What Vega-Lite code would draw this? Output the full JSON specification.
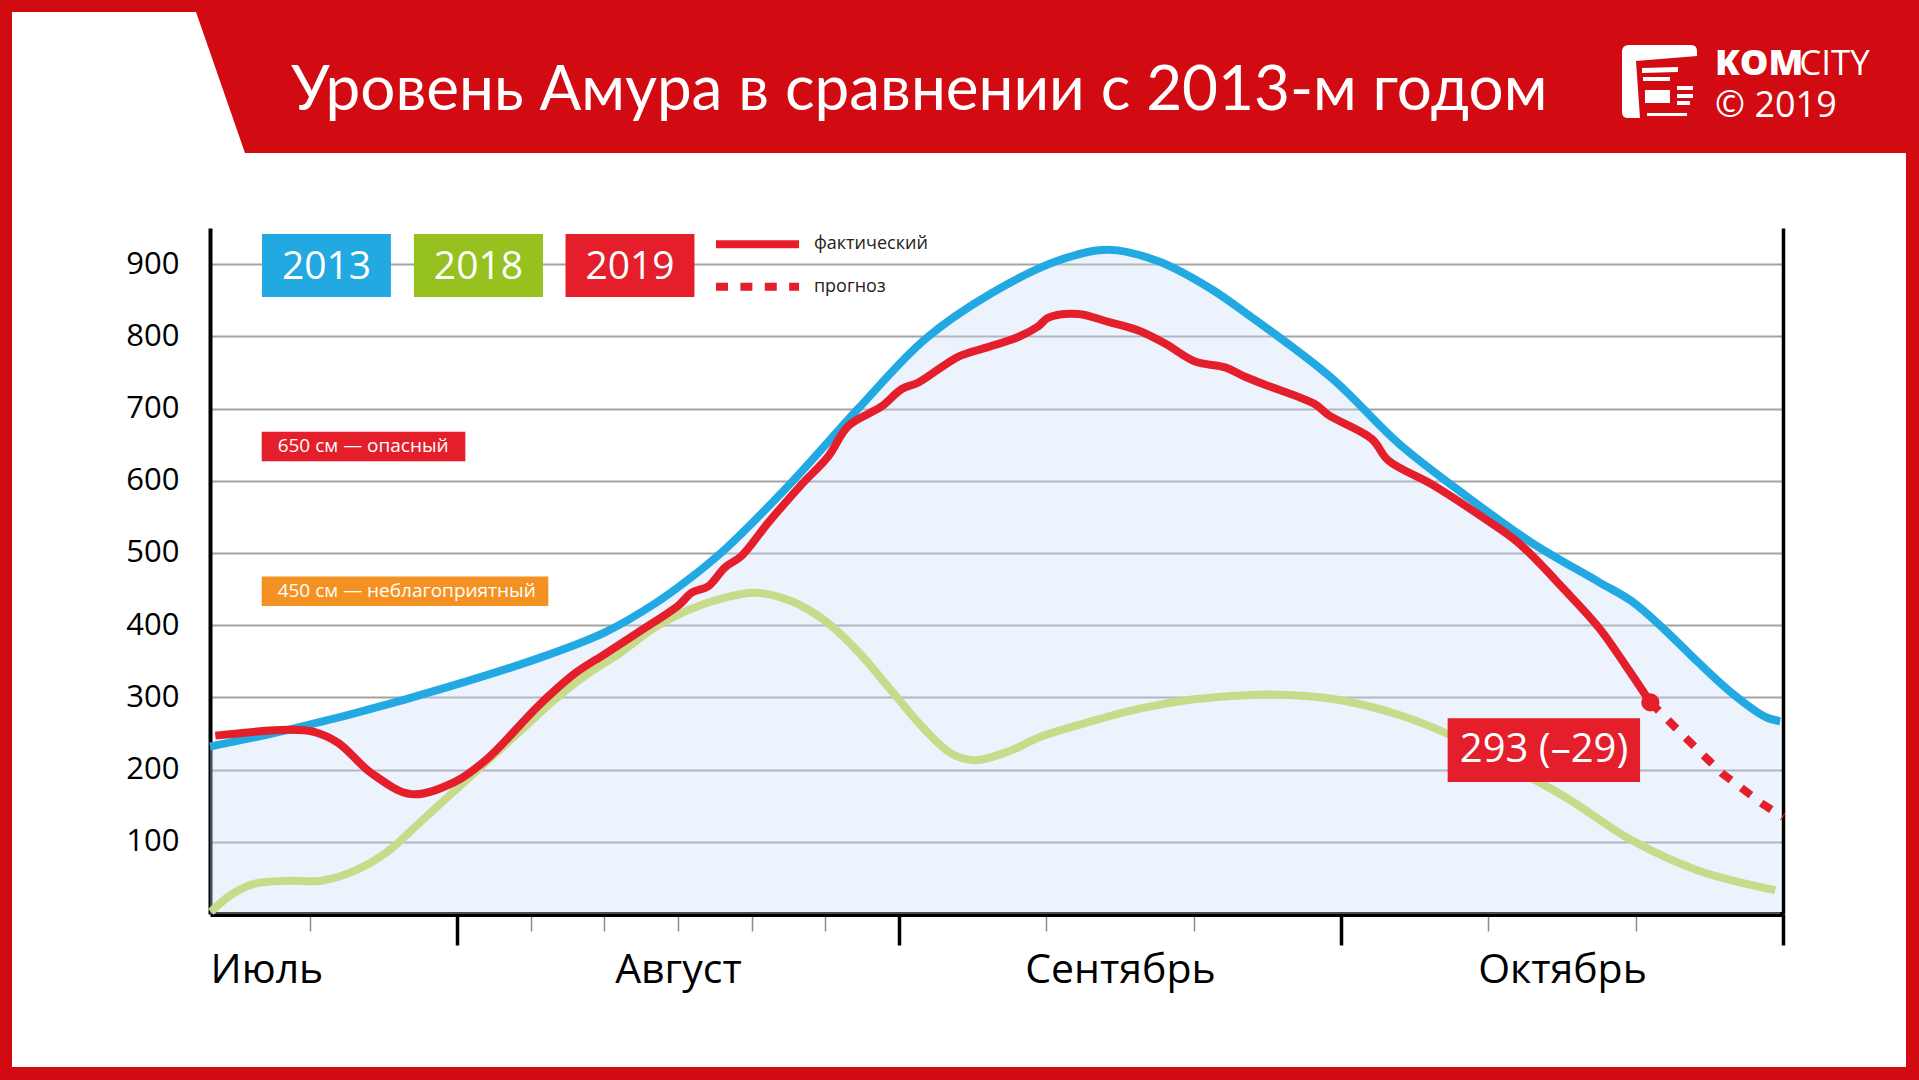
{
  "$schema": "https://vega.github.io/schema/vega-lite/v6.json",
  "width": 1573,
  "height": 686,
  "autosize": {"type": "none"},
  "padding": {"left": 210, "top": 228, "right": 136, "bottom": 166},
  "background": "#ffffff",
  "config": {"view": {"stroke": null}, "font": "Open Sans"},
  "datasets": {
    "levels": [
      {"series": "2013", "day": -16.76, "level": 232},
      {"series": "2013", "day": -11.46, "level": 255},
      {"series": "2013", "day": -3.54, "level": 297},
      {"series": "2013", "day": 5.51, "level": 354},
      {"series": "2013", "day": 10.04, "level": 390},
      {"series": "2013", "day": 13.44, "level": 430},
      {"series": "2013", "day": 15.7, "level": 463},
      {"series": "2013", "day": 18.19, "level": 505},
      {"series": "2013", "day": 22.72, "level": 598},
      {"series": "2013", "day": 27.24, "level": 700},
      {"series": "2013", "day": 31.77, "level": 796},
      {"series": "2013", "day": 36.3, "level": 860},
      {"series": "2013", "day": 40.82, "level": 905},
      {"series": "2013", "day": 44.21, "level": 920},
      {"series": "2013", "day": 47.6, "level": 904},
      {"series": "2013", "day": 51.0, "level": 868},
      {"series": "2013", "day": 53.49, "level": 833},
      {"series": "2013", "day": 59.38, "level": 742},
      {"series": "2013", "day": 63.9, "level": 652},
      {"series": "2013", "day": 68.43, "level": 580},
      {"series": "2013", "day": 72.96, "level": 514},
      {"series": "2013", "day": 77.48, "level": 460},
      {"series": "2013", "day": 79.74, "level": 433},
      {"series": "2013", "day": 82.0, "level": 393},
      {"series": "2013", "day": 84.27, "level": 348},
      {"series": "2013", "day": 86.53, "level": 306},
      {"series": "2013", "day": 88.8, "level": 273},
      {"series": "2013", "day": 89.81, "level": 267},

      {"series": "2018", "day": -16.7, "level": 3},
      {"series": "2018", "day": -15.3, "level": 27},
      {"series": "2018", "day": -13.7, "level": 42},
      {"series": "2018", "day": -11.46, "level": 46},
      {"series": "2018", "day": -9.19, "level": 46},
      {"series": "2018", "day": -6.93, "level": 60},
      {"series": "2018", "day": -4.67, "level": 87},
      {"series": "2018", "day": -2.4, "level": 129},
      {"series": "2018", "day": -0.14, "level": 171},
      {"series": "2018", "day": 2.12, "level": 213},
      {"series": "2018", "day": 4.39, "level": 255},
      {"series": "2018", "day": 6.65, "level": 297},
      {"series": "2018", "day": 8.91, "level": 333},
      {"series": "2018", "day": 11.18, "level": 363},
      {"series": "2018", "day": 13.44, "level": 397},
      {"series": "2018", "day": 15.7, "level": 421},
      {"series": "2018", "day": 18.19, "level": 438},
      {"series": "2018", "day": 20.23, "level": 445},
      {"series": "2018", "day": 22.72, "level": 433},
      {"series": "2018", "day": 24.98, "level": 406},
      {"series": "2018", "day": 27.24, "level": 363},
      {"series": "2018", "day": 29.5, "level": 309},
      {"series": "2018", "day": 31.77, "level": 255},
      {"series": "2018", "day": 33.58, "level": 222},
      {"series": "2018", "day": 35.16, "level": 213},
      {"series": "2018", "day": 37.42, "level": 225},
      {"series": "2018", "day": 39.69, "level": 246},
      {"series": "2018", "day": 43.08, "level": 267},
      {"series": "2018", "day": 46.48, "level": 285},
      {"series": "2018", "day": 49.88, "level": 297},
      {"series": "2018", "day": 53.49, "level": 303},
      {"series": "2018", "day": 54.85, "level": 304},
      {"series": "2018", "day": 59.38, "level": 298},
      {"series": "2018", "day": 63.9, "level": 276},
      {"series": "2018", "day": 67.29, "level": 249},
      {"series": "2018", "day": 70.69, "level": 213},
      {"series": "2018", "day": 75.22, "level": 162},
      {"series": "2018", "day": 79.74, "level": 102},
      {"series": "2018", "day": 84.27, "level": 60},
      {"series": "2018", "day": 89.47, "level": 33},

      {"series": "2019", "day": -16.4, "level": 247},
      {"series": "2019", "day": -11.46, "level": 255},
      {"series": "2019", "day": -9.65, "level": 252},
      {"series": "2019", "day": -8.06, "level": 237},
      {"series": "2019", "day": -5.8, "level": 195},
      {"series": "2019", "day": -3.08, "level": 166},
      {"series": "2019", "day": -0.14, "level": 183},
      {"series": "2019", "day": 2.12, "level": 216},
      {"series": "2019", "day": 5.51, "level": 288},
      {"series": "2019", "day": 8.0, "level": 333},
      {"series": "2019", "day": 10.04, "level": 360},
      {"series": "2019", "day": 12.3, "level": 390},
      {"series": "2019", "day": 15.02, "level": 427},
      {"series": "2019", "day": 15.93, "level": 445},
      {"series": "2019", "day": 17.06, "level": 454},
      {"series": "2019", "day": 18.19, "level": 480},
      {"series": "2019", "day": 19.32, "level": 496},
      {"series": "2019", "day": 21.13, "level": 542},
      {"series": "2019", "day": 23.4, "level": 595},
      {"series": "2019", "day": 25.21, "level": 634},
      {"series": "2019", "day": 26.57, "level": 676},
      {"series": "2019", "day": 28.83, "level": 703},
      {"series": "2019", "day": 30.19, "level": 727},
      {"series": "2019", "day": 31.32, "level": 736},
      {"series": "2019", "day": 34.04, "level": 772},
      {"series": "2019", "day": 35.85, "level": 784},
      {"series": "2019", "day": 38.1, "level": 799},
      {"series": "2019", "day": 39.46, "level": 814},
      {"series": "2019", "day": 40.14, "level": 826},
      {"series": "2019", "day": 42.18, "level": 831},
      {"series": "2019", "day": 44.21, "level": 820},
      {"series": "2019", "day": 46.25, "level": 808},
      {"series": "2019", "day": 48.06, "level": 790},
      {"series": "2019", "day": 50.1, "level": 765},
      {"series": "2019", "day": 52.13, "level": 757},
      {"series": "2019", "day": 53.49, "level": 744},
      {"series": "2019", "day": 54.85, "level": 733},
      {"series": "2019", "day": 58.24, "level": 706},
      {"series": "2019", "day": 59.15, "level": 691},
      {"series": "2019", "day": 62.09, "level": 658},
      {"series": "2019", "day": 63.22, "level": 628},
      {"series": "2019", "day": 66.17, "level": 595},
      {"series": "2019", "day": 69.79, "level": 547},
      {"series": "2019", "day": 72.05, "level": 514},
      {"series": "2019", "day": 75.22, "level": 448},
      {"series": "2019", "day": 77.48, "level": 397},
      {"series": "2019", "day": 79.29, "level": 345},
      {"series": "2019", "day": 81.0, "level": 293},

      {"series": "прогноз", "day": 81.0, "level": 293},
      {"series": "прогноз", "day": 83.14, "level": 249},
      {"series": "прогноз", "day": 85.85, "level": 195},
      {"series": "прогноз", "day": 88.57, "level": 153},
      {"series": "прогноз", "day": 90.0, "level": 134}
    ]
  },
  "resolve": {"axis": {"x": "independent", "y": "independent"}},
  "layer": [
    {
      "data": {"values": [{}]},
      "mark": {"type": "point", "shape": "M-210,-914 H1709 V166 H-210 Z M-198,-902 V153 H1696 V-761 H35 L-14,-902 Z", "size": 4, "filled": true, "fill": "#d20a11", "opacity": 1, "strokeWidth": 0},
      "encoding": {
        "x": {"datum": -16.76, "type": "quantitative", "scale": {"domain": [-16.76, 90], "nice": false, "zero": false}, "axis": null},
        "y": {"datum": 0, "type": "quantitative", "scale": {"domain": [0, 950], "nice": false, "zero": false}, "axis": null}
      }
    },
    {
      "data": {"name": "levels"},
      "transform": [{"filter": "datum.series == '2013'"}],
      "mark": {"type": "area", "interpolate": "catmull-rom", "color": "#c9def5", "opacity": 0.35},
      "encoding": {
        "x": {"field": "day", "type": "quantitative", "scale": {"domain": [-16.76, 90], "nice": false, "zero": false},
          "axis": {"orient": "bottom", "values": [-10, 5, 10, 15, 20, 25, 40, 50, 70, 80], "labels": false, "grid": false, "ticks": true, "tickColor": "#8c8c8c", "tickWidth": 1.5, "tickSize": 17, "domain": true, "domainColor": "#000000", "domainWidth": 5, "title": null}},
        "y": {"field": "level", "type": "quantitative", "scale": {"domain": [0, 950], "nice": false, "zero": false},
          "axis": {"orient": "left", "values": [100, 200, 300, 400, 500, 600, 700, 800, 900], "grid": true, "gridColor": "#a3a3a3", "gridWidth": 2, "ticks": false, "domain": true, "domainColor": "#000000", "domainWidth": 4, "labelFont": "Open Sans", "labelFontSize": 31, "labelColor": "#000000", "labelPadding": 31, "title": null}}
      }
    },
    {
      "data": {"name": "levels"},
      "transform": [{"filter": "datum.series != 'прогноз'"}],
      "mark": {"type": "line", "interpolate": "catmull-rom", "strokeWidth": 8, "strokeCap": "butt", "strokeJoin": "round"},
      "encoding": {
        "x": {"field": "day", "type": "quantitative",
          "axis": {"orient": "bottom", "values": [0, 30, 60, 90], "labels": false, "grid": false, "domain": false, "ticks": true, "tickColor": "#000000", "tickWidth": 3.5, "tickSize": 31, "title": null}},
        "y": {"field": "level", "type": "quantitative",
          "axis": {"orient": "right", "labels": false, "ticks": false, "grid": false, "domain": true, "domainColor": "#000000", "domainWidth": 3.5, "title": null}},
        "color": {"field": "series", "type": "nominal", "scale": {"domain": ["2013", "2018", "2019"], "range": ["#22a9e1", "#c6dc8b", "#e41e2b"]}, "legend": null}
      }
    },
    {
      "data": {"name": "levels"},
      "transform": [{"filter": "datum.series == 'прогноз'"}],
      "mark": {"type": "line", "color": "#e41e2b", "strokeWidth": 8, "strokeDash": [12, 13], "strokeCap": "butt"},
      "encoding": {
        "x": {"field": "day", "type": "quantitative",
          "axis": {"orient": "bottom", "values": [-16.76, 15, 45, 75], "ticks": false, "domain": false, "grid": false, "labelExpr": "datum.value < 0 ? 'Июль' : datum.value < 30 ? 'Август' : datum.value < 60 ? 'Сентябрь' : 'Октябрь'", "labelFont": "Open Sans", "labelFontSize": 41, "labelColor": "#000000", "labelBaseline": "alphabetic", "labelPadding": 68, "labelLimit": 0, "labelAlign": {"condition": {"test": "datum.value < 0", "value": "left"}, "value": "center"}, "labelFlush": false, "labelOverlap": false, "labelBound": false, "title": null}},
        "y": {"field": "level", "type": "quantitative", "axis": null}
      }
    },
    {
      "data": {"name": "levels"},
      "transform": [{"filter": "datum.series == 'прогноз' && datum.day == 81"}],
      "mark": {"type": "circle", "color": "#e41e2b", "size": 330, "opacity": 1},
      "encoding": {
        "x": {"field": "day", "type": "quantitative", "axis": null},
        "y": {"field": "level", "type": "quantitative", "axis": null}
      }
    },
    {
      "data": {"values": [{}]},
      "mark": {"type": "rect", "fill": "#22a9e1"},
      "encoding": {"x": {"datum": -13.23, "type": "quantitative", "axis": null}, "x2": {"datum": -4.48}, "y": {"datum": 941.7, "type": "quantitative", "axis": null}, "y2": {"datum": 854.4}}
    },
    {
      "data": {"values": [{}]},
      "mark": {"type": "rect", "fill": "#97c11f"},
      "encoding": {"x": {"datum": -2.92, "type": "quantitative", "axis": null}, "x2": {"datum": 5.84}, "y": {"datum": 941.7, "type": "quantitative", "axis": null}, "y2": {"datum": 854.4}}
    },
    {
      "data": {"values": [{}]},
      "mark": {"type": "rect", "fill": "#e41e2b"},
      "encoding": {"x": {"datum": 7.37, "type": "quantitative", "axis": null}, "x2": {"datum": 16.12}, "y": {"datum": 941.7, "type": "quantitative", "axis": null}, "y2": {"datum": 854.4}}
    },
    {
      "data": {"values": [{}]},
      "mark": {"type": "text", "text": "2013", "color": "#ffffff", "font": "Open Sans", "fontSize": 39, "align": "center", "baseline": "middle"},
      "encoding": {"x": {"datum": -8.85, "type": "quantitative", "axis": null}, "y": {"datum": 896.5, "type": "quantitative", "axis": null}}
    },
    {
      "data": {"values": [{}]},
      "mark": {"type": "text", "text": "2018", "color": "#ffffff", "font": "Open Sans", "fontSize": 39, "align": "center", "baseline": "middle"},
      "encoding": {"x": {"datum": 1.46, "type": "quantitative", "axis": null}, "y": {"datum": 896.5, "type": "quantitative", "axis": null}}
    },
    {
      "data": {"values": [{}]},
      "mark": {"type": "text", "text": "2019", "color": "#ffffff", "font": "Open Sans", "fontSize": 39, "align": "center", "baseline": "middle"},
      "encoding": {"x": {"datum": 11.75, "type": "quantitative", "axis": null}, "y": {"datum": 896.5, "type": "quantitative", "axis": null}}
    },
    {
      "data": {"values": [{}]},
      "mark": {"type": "rule", "color": "#e41e2b", "strokeWidth": 8, "strokeCap": "butt"},
      "encoding": {"x": {"datum": 17.58, "type": "quantitative", "axis": null}, "x2": {"datum": 23.22}, "y": {"datum": 927.4, "type": "quantitative", "axis": null}}
    },
    {
      "data": {"values": [{}]},
      "mark": {"type": "rule", "color": "#e41e2b", "strokeWidth": 8, "strokeCap": "butt", "strokeDash": [12, 12.4]},
      "encoding": {"x": {"datum": 17.58, "type": "quantitative", "axis": null}, "x2": {"datum": 23.22}, "y": {"datum": 868.7, "type": "quantitative", "axis": null}}
    },
    {
      "data": {"values": [{}]},
      "mark": {"type": "text", "text": "фактический", "color": "#222222", "font": "Open Sans", "fontSize": 18, "align": "left", "baseline": "middle"},
      "encoding": {"x": {"datum": 24.23, "type": "quantitative", "axis": null}, "y": {"datum": 927.4, "type": "quantitative", "axis": null}}
    },
    {
      "data": {"values": [{}]},
      "mark": {"type": "text", "text": "прогноз", "color": "#222222", "font": "Open Sans", "fontSize": 18, "align": "left", "baseline": "middle"},
      "encoding": {"x": {"datum": 24.23, "type": "quantitative", "axis": null}, "y": {"datum": 868.7, "type": "quantitative", "axis": null}}
    },
    {
      "data": {"values": [{}]},
      "mark": {"type": "rect", "fill": "#e41e2b"},
      "encoding": {"x": {"datum": -13.25, "type": "quantitative", "axis": null}, "x2": {"datum": 0.57}, "y": {"datum": 668, "type": "quantitative", "axis": null}, "y2": {"datum": 627}}
    },
    {
      "data": {"values": [{}]},
      "mark": {"type": "text", "text": "650 см — опасный", "color": "#ffffff", "font": "Open Sans", "fontSize": 19, "align": "left", "baseline": "middle"},
      "encoding": {"x": {"datum": -12.17, "type": "quantitative", "axis": null}, "y": {"datum": 647.5, "type": "quantitative", "axis": null}}
    },
    {
      "data": {"values": [{}]},
      "mark": {"type": "rect", "fill": "#f39222"},
      "encoding": {"x": {"datum": -13.25, "type": "quantitative", "axis": null}, "x2": {"datum": 6.2}, "y": {"datum": 467.5, "type": "quantitative", "axis": null}, "y2": {"datum": 426.5}}
    },
    {
      "data": {"values": [{}]},
      "mark": {"type": "text", "text": "450 см — неблагоприятный", "color": "#ffffff", "font": "Open Sans", "fontSize": 19, "align": "left", "baseline": "middle"},
      "encoding": {"x": {"datum": -12.17, "type": "quantitative", "axis": null}, "y": {"datum": 447, "type": "quantitative", "axis": null}}
    },
    {
      "data": {"values": [{}]},
      "mark": {"type": "rect", "fill": "#e41e2b"},
      "encoding": {"x": {"datum": 67.24, "type": "quantitative", "axis": null}, "x2": {"datum": 80.3}, "y": {"datum": 271.0, "type": "quantitative", "axis": null}, "y2": {"datum": 182.8}}
    },
    {
      "data": {"values": [{}]},
      "mark": {"type": "text", "text": "293 (–29)", "color": "#ffffff", "font": "Open Sans", "fontSize": 40, "align": "center", "baseline": "middle"},
      "encoding": {"x": {"datum": 73.78, "type": "quantitative", "axis": null}, "y": {"datum": 227.1, "type": "quantitative", "axis": null}}
    },
    {
      "data": {"values": [{}]},
      "mark": {"type": "text", "text": "Уровень Амура в сравнении с 2013-м годом", "color": "#ffffff", "font": "Lato", "fontSize": 62, "align": "left", "baseline": "alphabetic"},
      "encoding": {"x": {"datum": -11.26, "type": "quantitative", "axis": null}, "y": {"datum": 1113.4, "type": "quantitative", "axis": null}}
    },
    {
      "data": {"values": [{}]},
      "mark": {"type": "point", "shape": "M-1,-66 Q-1,-73 6,-73 L68,-73 Q74,-73 74,-67 L74,-62 L13,-57 L17,0 L5,0 Q-1,0 -1,-6 Z M19,-50 L55,-51 L55,-46 L19,-45 Z M20,-41 L47,-41 L47,-37 L20,-37 Z M54,-32 L70,-32 L70,-28 L54,-28 Z M22,-28 L47,-28 L47,-15 L22,-15 Z M54,-24 L70,-24 L70,-20 L54,-20 Z M54,-17 L67,-17 L67,-13 L54,-13 Z M24,-5 L64,-5 L64,-2 L24,-2 Z", "size": 4, "filled": true, "fill": "#ffffff", "opacity": 1, "strokeWidth": 0},
      "encoding": {"x": {"datum": 79.14, "type": "quantitative", "axis": null}, "y": {"datum": 1102.3, "type": "quantitative", "axis": null}}
    },
    {
      "data": {"values": [{}]},
      "mark": {"type": "text", "text": "KOM", "color": "#ffffff", "font": "Open Sans", "fontWeight": 800, "fontSize": 36, "align": "left", "baseline": "alphabetic"},
      "encoding": {"x": {"datum": 85.39, "type": "quantitative", "axis": null}, "y": {"datum": 1161.9, "type": "quantitative", "axis": null}}
    },
    {
      "data": {"values": [{}]},
      "mark": {"type": "text", "text": "CITY", "color": "#ffffff", "font": "Open Sans", "fontSize": 35, "align": "left", "baseline": "alphabetic"},
      "encoding": {"x": {"datum": 91.1, "type": "quantitative", "axis": null}, "y": {"datum": 1161.9, "type": "quantitative", "axis": null}}
    },
    {
      "data": {"values": [{}]},
      "mark": {"type": "text", "text": "© 2019", "color": "#ffffff", "font": "Open Sans", "fontSize": 36, "align": "left", "baseline": "alphabetic"},
      "encoding": {"x": {"datum": 85.39, "type": "quantitative", "axis": null}, "y": {"datum": 1103.3, "type": "quantitative", "axis": null}}
    }
  ]
}
